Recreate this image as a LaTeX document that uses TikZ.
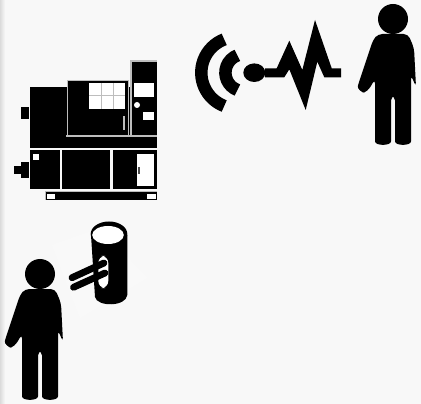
\documentclass[tikz,border=0pt]{standalone}
\usepackage{tikz}
\definecolor{paper}{HTML}{F8F8F8}
\definecolor{seam}{HTML}{BDBDBD}
\tikzset{
    pane/.style={fill=white},
    seamline/.style={draw=seam, line width=0.9pt},
    pics/person/.style={code={
        \fill (0,0) circle (15);
        \fill[rounded corners=2.5] (-15,15) -- (15,15) -- (21,29) -- (23,68) -- (18,56) -- (18,118)
            .. controls (18,127) and (2,127) .. (2,118) -- (2,77) -- (-2,77) -- (-2,118)
            .. controls (-2,127) and (-18,127) .. (-18,118) -- (-18,60) -- (-25,72)
            .. controls (-30,74) and (-36,70) .. (-34,63) -- (-20,21) -- cycle;
    }},
}
\begin{document}
\begin{tikzpicture}[x=0.02cm, y=-0.02cm]
    \useasboundingbox (0,0) rectangle (421,404);
    \fill[paper] (0,0) rectangle (421,404);
    \shade[left color=black!14, right color=paper] (0,0) rectangle (5,404);
    \fill[white, opacity=0.2] (52,245) -- (100,228) -- (147,278) -- (80,318) -- cycle;

    % machine
    \fill (20.7,107.3) rectangle (29.3,118.7);
    \fill (20.7,161.7) rectangle (29.3,178.3);
    \fill (14,165.7) rectangle (20.7,174);
    \fill (30.3,87) rectangle (157,148);
    \fill (67.3,80.7) rectangle (128.3,135.8);
    \draw[seamline] (67.3,135.8) -- (67.3,80.7) -- (128.3,80.7) -- (128.3,135.8);
    \fill (131,61) rectangle (157,136);
    \draw[seamline] (131,136) -- (131,61) -- (157,61);
    \draw[seamline] (66,136) -- (157,136);
    \foreach \xa/\xb in {30.3/59.5, 62/110, 112.7/157} {
        \fill (\xa,150) rectangle (\xb,189);
    }
    \fill (45.3,191.7) rectangle (157,200);
    \draw[seam, line width=0.7pt] (45.3,200) -- (45.3,191.7) -- (157,191.7);
    % window and door
    \fill[pane] (89.3,83.3) rectangle (124.7,108.7);
    \draw[seamline] (101.3,83.3) -- (101.3,108.7) (113.3,83.3) -- (113.3,108.7) (89.3,95.7) -- (124.7,95.7);
    \fill[seam] (123,116) rectangle (125,130);
    \fill[pane] (134,83.3) rectangle (154,97.3);
    \fill[pane] (137,105) circle (3);
    \fill[pane] (142.7,112) rectangle (154,120);
    \fill[pane] (32.7,154.3) rectangle (39.3,160.3);
    \fill[pane] (136.7,154) rectangle (153.7,186);
    \fill[black!70] (138,166.7) rectangle (140,174.3);
    \fill[pane] (47,194) rectangle (55,198.7);
    \fill[pane] (147.3,194) rectangle (155.7,198.7);

    % signal
    \draw[line width=7.1pt] (237,72.7) ++(111:35.7) arc[start angle=111, end angle=249, radius=35.7];
    \draw[line width=7.1pt] (243.9,72.7) ++(110.6:18.5) arc[start angle=110.6, end angle=249.4, radius=18.5];
    \fill (254.3,72.7) ellipse (11 and 9.3);
    \fill (265,68.3) -- (276.7,68.3) -- (289.3,40.7) -- (302.3,70) -- (315,20) -- (331.7,68.3) -- (341,68.3)
        -- (341,77.3) -- (324.3,77.3) -- (317.3,61.7) -- (305.7,110) -- (289.3,69.3) -- (284.3,77.3) -- (265,77.3) -- cycle;
    \pic at (393,19) {person};

    % cylinder
    \pic at (40,274) {person};
    \fill (91,235) -- (95,297) .. controls (97,307) and (126,307) .. (127.3,295) -- (127.3,235) -- cycle;
    \fill (109,234) ellipse (18.3 and 12.5);
    \fill[pane] (108,235) ellipse (15.8 and 9);
    \fill[pane, rounded corners=4] (98.3,256) rectangle (108.3,288);
    \draw[line width=3.9pt, line cap=round] (72,277.7) -- (104,263);
    \draw[line width=3.9pt, line cap=round] (73.5,287.3) -- (105,273);
\end{tikzpicture}
\end{document}
